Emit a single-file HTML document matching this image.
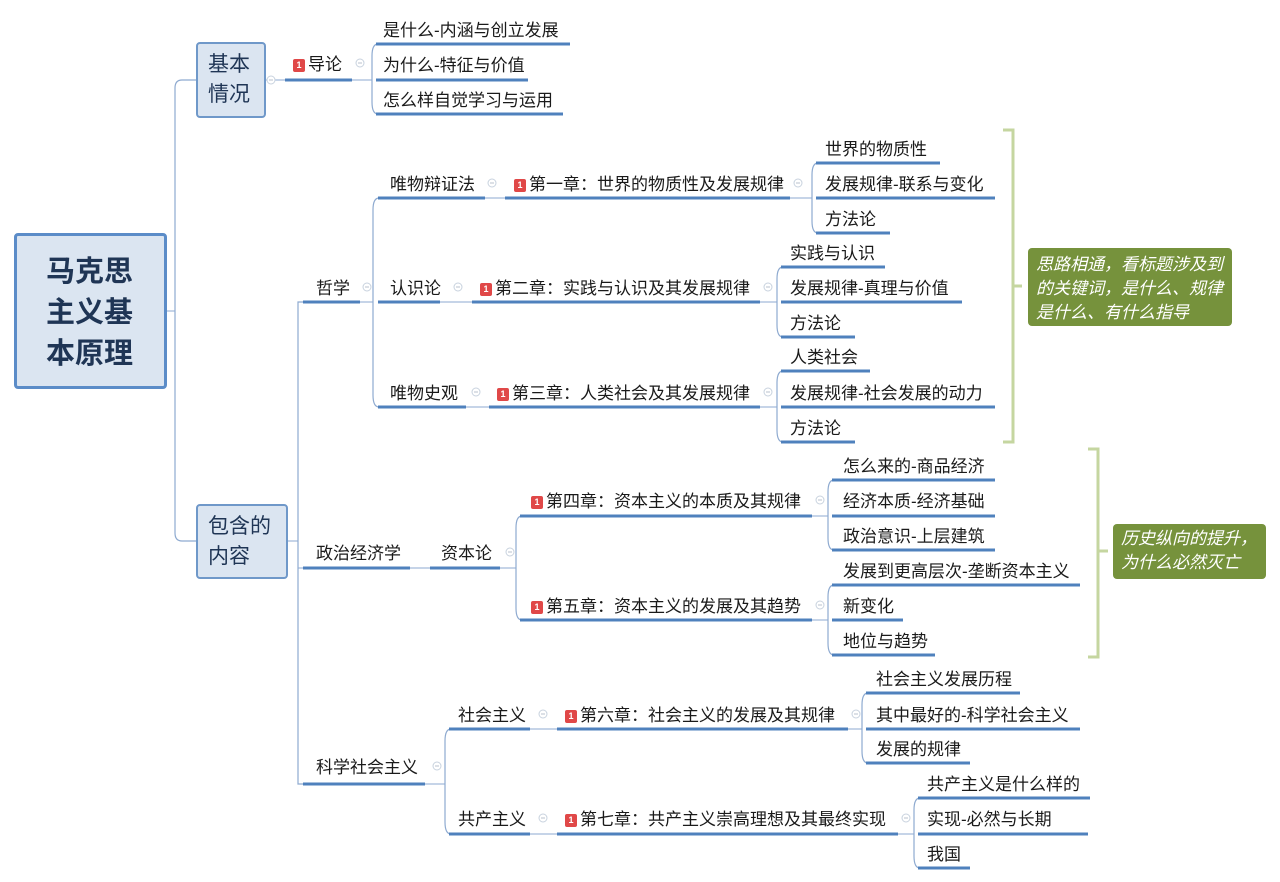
<!DOCTYPE html>
<html><head><meta charset="utf-8">
<style>
html,body{margin:0;padding:0;background:#fff;width:1280px;height:882px;overflow:hidden;}
body{position:relative;font-family:"Liberation Sans","Noto Sans CJK SC",sans-serif;}
.t{position:absolute;font-size:17px;line-height:20px;color:#1a1a1a;white-space:nowrap;}
.b{display:inline-block;width:12px;height:13px;background:#e04848;color:#fff;font-size:9px;line-height:13px;text-align:center;border-radius:2px;margin-right:3px;vertical-align:2px;font-weight:bold;}
.box{position:absolute;background:#dbe5f1;border:2px solid #6f98c9;border-radius:4px;color:#1f3555;box-sizing:border-box;}
.note{position:absolute;background:#76923c;border-radius:4px;color:#fff;font-style:italic;font-size:17px;line-height:24px;box-sizing:border-box;padding:5px 8px;}
svg{position:absolute;left:0;top:0;}
</style></head><body>
<svg id="s" width="1280" height="882"></svg>
<div class="box" style="left:14px;top:233px;width:153px;height:156px;border-width:3px;border-color:#5b8cc8;font-size:29px;font-weight:bold;line-height:41px;padding:16px 0 0 29px;">马克思<br>主义基<br>本原理</div>
<div class="box" style="left:196px;top:42px;width:70px;height:76px;font-size:21px;line-height:30px;padding:6px 0 0 10px;">基本<br>情况</div>
<div class="box" style="left:196px;top:504px;width:92px;height:75px;font-size:21px;line-height:30px;padding:6px 0 0 10px;">包含的<br>内容</div>
<div class="note" style="left:1028px;top:248px;width:204px;height:78px;">思路相通，看标题涉及到的关键词，是什么、规律是什么、有什么指导</div>
<div class="note" style="left:1113px;top:524px;width:153px;height:55px;padding:3px 8px;">历史纵向的提升，为什么必然灭亡</div>
<div id="n"></div>
<script>
var S=document.getElementById('s'),N=document.getElementById('n'),svg='',html='';
function L(x1,y1,x2,y2,c,w){svg+='<line x1="'+x1+'" y1="'+y1+'" x2="'+x2+'" y2="'+y2+'" stroke="'+(c||'#8eaad0')+'" stroke-width="'+(w||1)+'"/>';}
function P(d,c,w){svg+='<path d="'+d+'" fill="none" stroke="'+(c||'#8eaad0')+'" stroke-width="'+(w||1.2)+'"/>';}
function C(x,y){svg+='<circle cx="'+x+'" cy="'+y+'" r="4" fill="#fff" stroke="#c8d2de" stroke-width="1"/><line x1="'+(x-2)+'" y1="'+y+'" x2="'+(x+2)+'" y2="'+y+'" stroke="#b8c2ce"/>';}
function T(t,x,y,u1,u2,uy,b){html+='<div class="t" style="left:'+(b?x-16:x)+'px;top:'+(y-8)+'px">'+(b?'<span class="b">1</span>':'')+t+'</div>';L(u1,uy,u2,uy,'#4f81bd',3);}
function BR(x,y1,y2,ym,fx){P('M'+(x+6)+' '+y1+' Q'+x+' '+y1+' '+x+' '+(y1+12)+' L'+x+' '+(y2-12)+' Q'+x+' '+y2+' '+(x+6)+' '+y2);L(fx,ym,x,ym);}
P('M196 80 L182 80 Q175 80 175 88 L175 533 Q175 541 182 541 L196 541');L(166,311,175,311);
L(266,80,285,80);C(271,80);
T('导论',309,63,285,352,80,1);C(360,63);L(352,80,372,80);
BR(372,44,114,80,352);
T('是什么-内涵与创立发展',383,29,376,570,44);
T('为什么-特征与价值',383,64,376,528,80);
T('怎么样自觉学习与运用',383,99,376,563,114);
L(288,541,298,541);
P('M303 302 L298 302 L298 784 L303 784');L(298,568,303,568);
T('哲学',316,287,303,360,302);C(367,287);
BR(373,198,407,302,360);
T('唯物辩证法',390,183,378,485,198);C(492,183);L(485,198,505,198);
T('第一章：世界的物质性及发展规律',530,183,505,790,198,1);C(798,183);
BR(812,163,233,198,790);
T('世界的物质性',825,148,816,940,163);
T('发展规律-联系与变化',825,183,816,995,198);
T('方法论',825,218,816,890,233);
T('认识论',390,287,378,440,302);C(458,287);L(440,302,472,302);
T('第二章：实践与认识及其发展规律',496,287,472,760,302,1);C(768,287);
BR(777,267,337,302,760);
T('实践与认识',790,252,781,885,267);
T('发展规律-真理与价值',790,287,781,962,302);
T('方法论',790,322,781,855,337);
T('唯物史观',390,392,378,466,407);C(476,392);L(466,407,489,407);
T('第三章：人类社会及其发展规律',513,392,489,760,407,1);C(768,392);
BR(777,371,442,407,760);
T('人类社会',790,356,781,870,371);
T('发展规律-社会发展的动力',790,392,781,995,407);
T('方法论',790,427,781,855,442);
P('M1003 130 L1013 130 L1013 442 L1003 442 M1013 286 L1022 286','#c5d6a0',3);
P('M1088 449 L1098 449 L1098 657 L1088 657 M1098 551 L1108 551','#c5d6a0',3);
T('政治经济学',316,552,303,410,568);L(410,568,430,568);
T('资本论',441,552,430,500,568);C(510,552);
BR(516,516,620,568,500);
T('第四章：资本主义的本质及其规律',547,500,520,812,516,1);C(820,500);
BR(828,480,550,516,812);
T('怎么来的-商品经济',843,465,832,995,480);
T('经济本质-经济基础',843,500,832,995,516);
T('政治意识-上层建筑',843,535,832,995,550);
T('第五章：资本主义的发展及其趋势',547,605,520,812,620,1);C(820,605);
BR(828,585,655,620,812);
T('发展到更高层次-垄断资本主义',843,570,832,1080,585);
T('新变化',843,605,832,903,620);
T('地位与趋势',843,640,832,935,655);
T('科学社会主义',316,766,303,425,784);C(437,766);
BR(445,729,834,784,425);
T('社会主义',458,714,449,530,729);C(543,714);L(530,729,557,729);
T('第六章：社会主义的发展及其规律',581,714,557,848,729,1);C(856,714);
BR(862,693,763,729,848);
T('社会主义发展历程',876,678,866,1020,693);
T('其中最好的-科学社会主义',876,714,866,1080,729);
T('发展的规律',876,748,866,970,763);
T('共产主义',458,818,449,530,834);C(543,818);L(530,834,557,834);
T('第七章：共产主义崇高理想及其最终实现',581,818,557,898,834,1);C(906,818);
BR(914,798,868,834,898);
T('共产主义是什么样的',927,783,918,1090,798);
T('实现-必然与长期',927,818,918,1088,834);
T('我国',927,853,918,970,868);
S.innerHTML=svg;N.innerHTML=html;
</script>
</body></html>
